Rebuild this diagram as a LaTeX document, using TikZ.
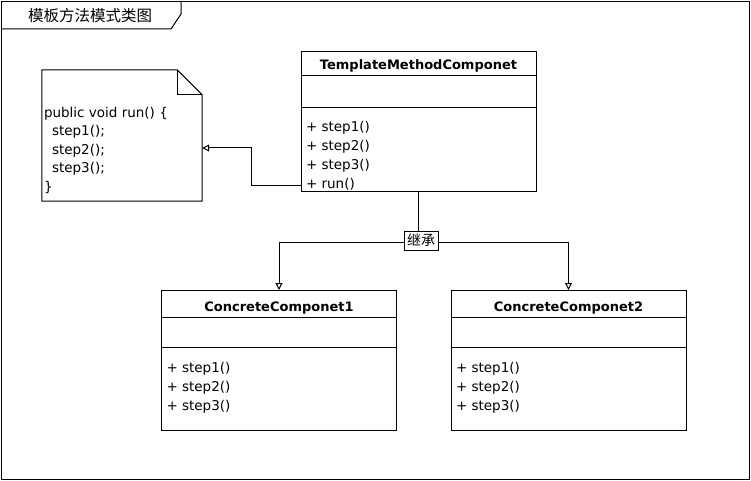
\documentclass[tikz,border=0pt]{standalone}
\usepackage{fontspec}
\setmainfont{DejaVu Sans}
\newfontfamily\cjk{Noto Sans CJK SC}
\usetikzlibrary{shapes, shapes.multipart, positioning, arrows.meta}

\begin{document}
\begin{tikzpicture}[
    x=1pt, y=-1pt,
    >={Triangle[open, length=7pt, width=7pt]},
    classbox/.style={
        draw, rectangle split, rectangle split parts=3,
        rectangle split part align={center, left, left},
        minimum width=235pt, inner xsep=5pt, inner ysep=0pt, align=left,
        fill=white, line width=1pt, font=\fontsize{13.5}{19}\selectfont
    },
    notebox/.style={minimum width=160pt, minimum height=131pt, inner sep=0pt},
    codetxt/.style={align=left, inner sep=0pt, font=\fontsize{13.5}{18.5}\selectfont},
    tagbox/.style={draw, fill=white, inner sep=3pt, font=\cjk\fontsize{14}{14}\selectfont},
    link/.style={->, line width=1pt}
]

\useasboundingbox (0,0) rectangle (751,481);

\node[draw, line width=1pt, minimum width=748pt, minimum height=478pt, anchor=north west] (frame) at (1,1) {};
\draw[line width=1pt] (frame.north west) ++(0,28) -- ++(170,0) -- ++(10,-15) -- ++(0,-13);
\node[font=\cjk\fontsize{15.5}{15.5}\selectfont] (title) at (90,16) {模板方法模式类图};

\node[classbox, anchor=north] (tmc) at (418.5,51) {
    \rule[-5pt]{0pt}{23pt}{\fontsize{13}{19}\selectfont\textbf{TemplateMethodComponet}}
    \nodepart{second}
    \rule{0pt}{31pt}
    \nodepart{third}
    \rule{0pt}{23pt}+ step1() \\
    + step2() \\
    + step3() \\
    + run()\rule[-3pt]{0pt}{3pt}
};

\node[classbox, anchor=north] (cc1) at (279,290) {
    \rule[-6pt]{0pt}{26pt}{\fontsize{13}{19}\selectfont\textbf{ConcreteComponet1}}
    \nodepart{second}
    \rule{0pt}{29pt}
    \nodepart{third}
    \rule{0pt}{24pt}+ step1() \\
    + step2() \\
    + step3()\rule[-20pt]{0pt}{20pt}
};

\node[classbox, anchor=north] (cc2) at (568.5,290) {
    \rule[-6pt]{0pt}{26pt}{\fontsize{13}{19}\selectfont\textbf{ConcreteComponet2}}
    \nodepart{second}
    \rule{0pt}{29pt}
    \nodepart{third}
    \rule{0pt}{24pt}+ step1() \\
    + step2() \\
    + step3()\rule[-20pt]{0pt}{20pt}
};

\node[notebox] (note) at (122,135.5) {};
\draw[line width=1pt] (note.north west) -- ([xshift=-25pt]note.north east) -- ([yshift=-25pt]note.north east)
    -- (note.south east) -- (note.south west) -- cycle;
\draw[line width=1pt] ([xshift=-25pt]note.north east) -- ++(0,25) -- ([yshift=-25pt]note.north east);
\node[codetxt, anchor=west] (code) at ([xshift=2pt, yshift=-14.5pt]note.west) {
    public void run() \{ \\
    \hspace*{8pt}step1(); \\
    \hspace*{8pt}step2(); \\
    \hspace*{8pt}step3(); \\
    \}
};

\draw[link] ([yshift=7pt]tmc.south west) -- ++(-49,0) |- ([yshift=-12.5pt]note.east);

\draw[link] (tmc.south) -- ++(0,50) -| (cc1.north);
\draw[link] (tmc.south) -- ++(0,50) -| (cc2.north);
\node[tagbox] (inh) at (421,240.5) {继承};

\end{tikzpicture}
\end{document}
